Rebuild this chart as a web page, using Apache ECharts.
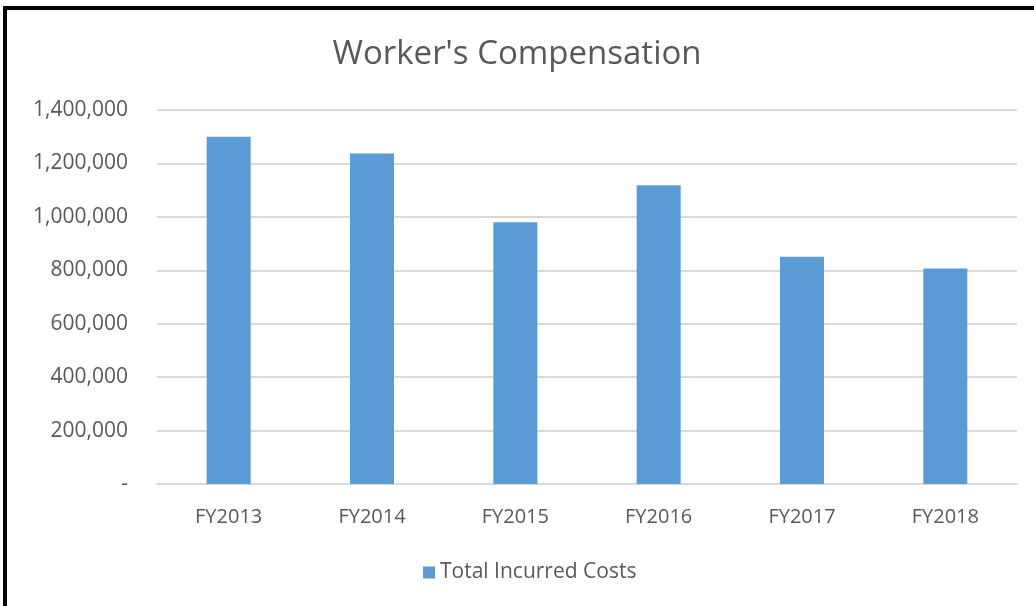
<!DOCTYPE html>
<html lang="en">

<head>
    <meta charset="UTF-8">
    <title>Worker's Compensation</title>
    <script src="https://cdn.jsdelivr.net/npm/echarts@6/dist/echarts.min.js"></script>
    <style>
        body { margin: 0; background: #fff; }
        #main { position: absolute; left: 0; top: 0; width: 1034px; height: 606px; }
        #frame {
            position: absolute; left: 3px; top: 6px; right: 0; bottom: 0;
            border-top: 4px solid #000; border-left: 4px solid #000;
            pointer-events: none;
        }
    </style>
</head>

<body>
    <div id="main"></div>
    <div id="frame"></div>
    <script type="text/javascript">
        // data
        let categories = ['FY2013', 'FY2014', 'FY2015', 'FY2016', 'FY2017', 'FY2018'];
        let totalIncurred = [1300000, 1237000, 980000, 1118000, 851000, 807000];
        let seriesName = 'Total Incurred Costs';

        let textColor = '#595959';
        let fontFamily = '"Open Sans", Lato, sans-serif';

        let options = {
            animation: false,
            textStyle: { fontFamily: fontFamily },
            title: {
                text: "Worker's Compensation",
                left: 'center',
                top: 33,
                textStyle: { fontSize: 33, fontWeight: 'normal', color: textColor, fontFamily: fontFamily }
            },
            legend: {
                bottom: 18,
                left: 418,
                icon: 'rect',
                itemWidth: 12,
                itemHeight: 12,
                itemGap: 6,
                textStyle: { fontSize: 21, color: textColor },
                data: [seriesName]
            },
            grid: { left: 157, right: 17, top: 110, bottom: 122, containLabel: false },
            xAxis: {
                type: 'category',
                data: categories,
                axisLine: { lineStyle: { color: '#d9d9d9', width: 2 } },
                axisTick: { show: false },
                axisLabel: { color: textColor, fontSize: 20, margin: 23 }
            },
            yAxis: {
                type: 'value',
                min: 0,
                max: 1400000,
                interval: 200000,
                axisLine: { show: false },
                axisTick: { show: false },
                splitLine: { lineStyle: { color: '#d9d9d9', width: 2 } },
                axisLabel: {
                    color: textColor,
                    fontSize: 21,
                    margin: 29,
                    formatter: function (v) {
                        return v === 0 ? '-' : v.toLocaleString('en-US');
                    }
                }
            },
            series: [{
                name: seriesName,
                type: 'bar',
                data: totalIncurred,
                barWidth: '30.7%',
                itemStyle: { color: '#5b9bd5' }
            }]
        };

        let myChart = echarts.init(document.getElementById('main'));
        myChart.setOption(options);
    </script>
</body>

</html>
